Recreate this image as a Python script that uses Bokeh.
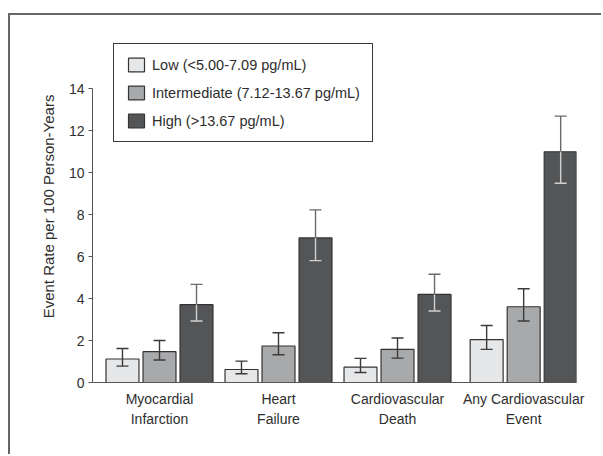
from bokeh.plotting import figure
from bokeh.models import ColumnDataSource, FixedTicker, Legend, LegendItem
from bokeh.embed import file_html
from bokeh.resources import INLINE

# ---- data ----
categories = ["Myocardial\nInfarction", "Heart\nFailure", "Cardiovascular\nDeath", "Any Cardiovascular\nEvent"]
levels = ["Low (<5.00-7.09 pg/mL)", "Intermediate (7.12-13.67 pg/mL)", "High (>13.67 pg/mL)"]
low_rate = [1.12, 0.62, 0.73, 2.04]
low_lower = [0.78, 0.42, 0.48, 1.58]
low_upper = [1.62, 1.02, 1.15, 2.72]
int_rate = [1.47, 1.74, 1.58, 3.61]
int_lower = [1.07, 1.32, 1.16, 2.93]
int_upper = [2.00, 2.37, 2.12, 4.47]
high_rate = [3.71, 6.89, 4.20, 11.00]
high_lower = [2.93, 5.81, 3.41, 9.50]
high_upper = [4.68, 8.23, 5.16, 12.70]
y_ticks = [0, 2, 4, 6, 8, 10, 12, 14]

# ---- layout constants ----
group_pos = [0.0, 1.0, 2.0, 3.06]
offset = 0.311
bar_w = 0.277
FONT = "Liberation Sans"
TXT = "#2e2e2e"

fill_colors = ["#e6e7e9", "#a8a9ab", "#545557"]

p = figure(width=593, height=441, output_backend="svg", toolbar_location=None,
           x_range=(-0.563, 3.504), y_range=(0, 16.78),
           min_border_left=82, min_border_right=27, min_border_top=15, min_border_bottom=74)
p.styles = {"margin-left": "8px", "margin-top": "13px",
            "border-left": "2px solid #666666", "border-top": "2px solid #666666"}
p.outline_line_color = None
p.xgrid.visible = False
p.ygrid.visible = False
p.background_fill_color = "white"

series = [(low_rate, low_lower, low_upper), (int_rate, int_lower, int_upper), (high_rate, high_lower, high_upper)]
renderers = []
for k, (rate, lo, up) in enumerate(series):
    xs = [g + (k - 1) * offset for g in group_pos]
    src = ColumnDataSource(dict(x=xs, top=rate, lower=lo, upper=up))
    r = p.vbar(x="x", top="top", width=bar_w, bottom=0, source=src,
               fill_color=fill_colors[k], line_color="#333333", line_width=1.2)
    renderers.append(r)
    if k < 2:
        p.segment(x0="x", y0="lower", x1="x", y1="upper", source=src, line_color="#3a3a3a", line_width=1.4)
        p.scatter(x="x", y="upper", marker="dash", size=12, source=src, line_color="#3a3a3a", line_width=1.4)
        p.scatter(x="x", y="lower", marker="dash", size=12, source=src, line_color="#3a3a3a", line_width=1.4)
    else:
        p.segment(x0="x", y0="top", x1="x", y1="upper", source=src, line_color="#6a6a6a", line_width=1.4)
        p.segment(x0="x", y0="lower", x1="x", y1="top", source=src, line_color="#d0d0d0", line_width=1.4)
        p.scatter(x="x", y="upper", marker="dash", size=12, source=src, line_color="#6a6a6a", line_width=1.4)
        p.scatter(x="x", y="lower", marker="dash", size=12, source=src, line_color="#d0d0d0", line_width=1.4)

# y axis
ya = p.yaxis[0]
ya.ticker = FixedTicker(ticks=y_ticks)
ya.bounds = (0, 14)
ya.axis_label = "Event Rate per 100 Person-Years"
ya.axis_label_text_font = FONT
ya.axis_label_text_font_size = "15px"
ya.axis_label_text_font_style = "normal"
ya.axis_label_text_color = TXT
ya.axis_label_standoff = 9
ya.major_label_text_font = FONT
ya.major_label_text_font_size = "14px"
ya.major_label_text_color = TXT
ya.major_label_standoff = 4
ya.major_tick_out = 4
ya.major_tick_in = 0
ya.minor_tick_line_color = None
ya.axis_line_color = "#555555"
ya.major_tick_line_color = "#555555"

# x axis
xa = p.xaxis[0]
xa.ticker = FixedTicker(ticks=group_pos)
xa.major_label_overrides = {g: c for g, c in zip(group_pos, categories)}
xa.major_label_text_font = FONT
xa.major_label_text_font_size = "14px"
xa.major_label_text_line_height = 1.3
xa.major_label_text_color = TXT
xa.major_label_standoff = 2
xa.major_tick_line_color = None
xa.minor_tick_line_color = None
xa.axis_line_color = "#555555"

# legend
legend = Legend(items=[LegendItem(label=levels[k], renderers=[renderers[k]]) for k in range(3)],
                location=(21, 240), orientation="vertical")
legend.glyph_width = 20
legend.glyph_height = 17
legend.label_height = 17
legend.spacing = 11
legend.padding = 12
legend.margin = 0
legend.label_standoff = 6
legend.label_text_font = FONT
legend.label_text_font_size = "14.5px"
legend.label_text_color = TXT
legend.border_line_color = "#3a3a3a"
legend.border_line_alpha = 1.0
legend.border_line_width = 1.3
legend.background_fill_alpha = 1.0
p.add_layout(legend, "center")

open("out.html", "w").write(file_html(p, INLINE))
